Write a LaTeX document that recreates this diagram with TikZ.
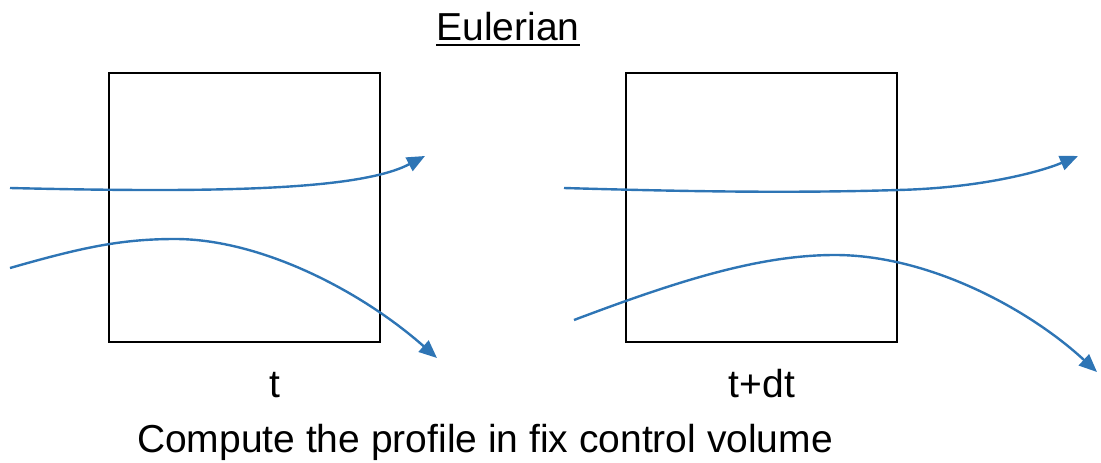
\documentclass[tikz,border=0pt]{standalone}
\usepackage{fontspec}
\setmainfont{Liberation Sans}
\usetikzlibrary{arrows.meta}
\definecolor{flowblue}{HTML}{2E75B5}
\tikzset{
  cvbox/.style={draw=black, line width=2.5pt, minimum width=271pt, minimum height=269pt, inner sep=0pt},
  streamline/.style={draw=flowblue, line width=2.4pt, -{Triangle[length=18pt,width=15pt]}},
  label/.style={inner sep=0pt, anchor=base, font=\fontsize{39}{45}\selectfont}
}
\begin{document}
\begin{tikzpicture}[x=1pt,y=-1pt]
\useasboundingbox (0,0) rectangle (1101,463);

% title
\node[label] (title) at (508,40) {Eulerian};
\draw[line width=2.5pt] ([yshift=-5pt]title.base west) -- ([yshift=-5pt]title.base east);

% control volumes at t and t+dt
\node[cvbox] (boxT) at (244.5,207.5) {};
\node[cvbox] (boxTdt) at (761.5,207.5) {};

% streamlines at time t
\draw[streamline] (10,188) .. controls (220,193) and (360,190) .. (425,156);
\draw[streamline] (10,268) .. controls (80,248) and (120,239) .. (175,239)
  .. controls (260,239) and (360,290) .. (437,358);

% streamlines at time t+dt
\draw[streamline] (564,188) .. controls (700,192) and (800,193) .. (898,190)
  .. controls (980,188) and (1040,172) .. (1078,156);
\draw[streamline] (574,320) .. controls (680,280) and (760,255) .. (835,255)
  .. controls (930,255) and (1030,310) .. (1097,372);

% labels
\node[label] (tlab) at (275,397) {t};
\node[label] (tdtlab) at (762,397) {t+dt};
\node[label] (caption) at (485,452) {Compute the profile in fix control volume};
\end{tikzpicture}
\end{document}
